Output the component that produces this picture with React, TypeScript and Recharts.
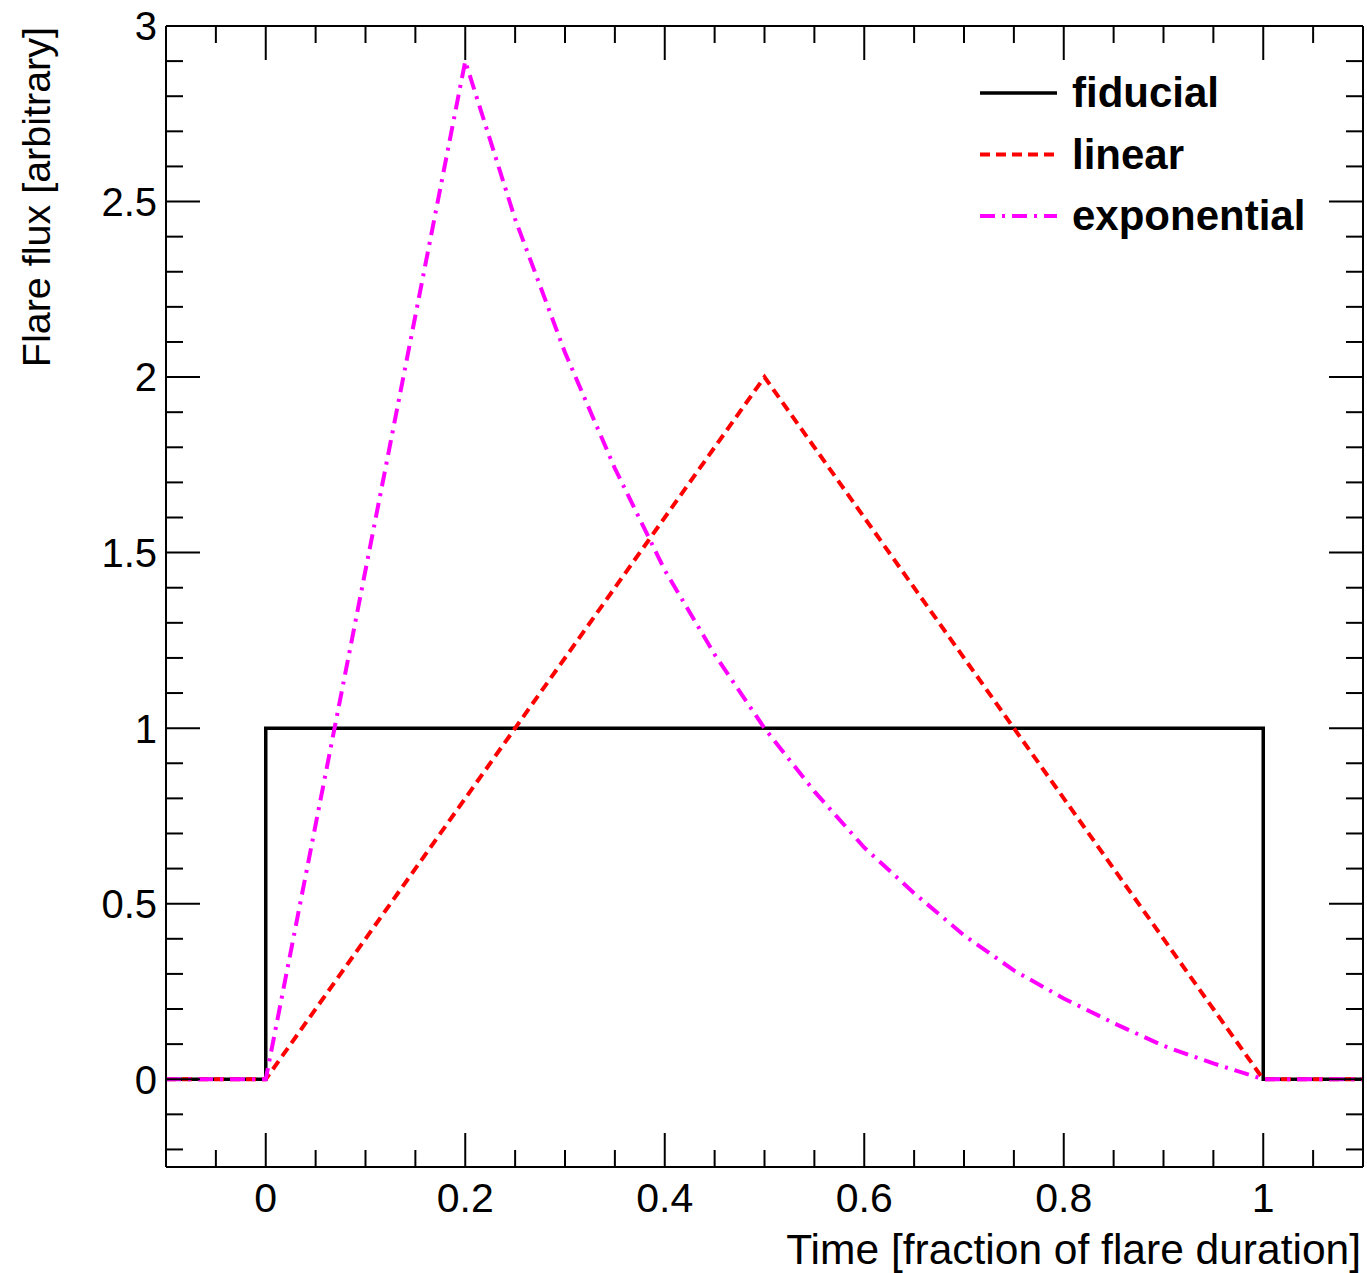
import { LineChart, Line, XAxis, YAxis } from "recharts";

// flare light-curve templates
const fiducialTime = [-0.1, 0, 0, 1, 1, 1.1];
const fiducialFlux = [0, 0, 1, 1, 0, 0];

const linearTime = [-0.1, 0, 0.5, 1, 1.1];
const linearFlux = [0, 0, 2, 0, 0];

const exponentialTime = [
  -0.1, 0, 0.2, 0.25, 0.3, 0.35, 0.4, 0.45, 0.5, 0.55, 0.6, 0.65, 0.7, 0.75, 0.8, 0.85, 0.9, 0.95, 1, 1.1,
];
const exponentialFlux = [
  0, 0, 2.9, 2.45, 2.07, 1.74, 1.45, 1.21, 1.0, 0.82, 0.66, 0.53, 0.41, 0.31, 0.23, 0.16, 0.095, 0.045, 0, 0,
];

const xMajorTicks = [0, 0.2, 0.4, 0.6, 0.8, 1];
const xTickLabels = ["0", "0.2", "0.4", "0.6", "0.8", "1"];
const xMinorTicks = [
  -0.05, 0.05, 0.1, 0.15, 0.25, 0.3, 0.35, 0.45, 0.5, 0.55, 0.65, 0.7, 0.75, 0.85, 0.9, 0.95, 1.05,
];

const yMajorTicks = [0, 0.5, 1, 1.5, 2, 2.5, 3];
const yTickLabels = ["0", "0.5", "1", "1.5", "2", "2.5", "3"];
const yMinorTicks = [
  -0.2, -0.1, 0.1, 0.2, 0.3, 0.4, 0.6, 0.7, 0.8, 0.9, 1.1, 1.2, 1.3, 1.4, 1.6, 1.7, 1.8, 1.9, 2.1, 2.2,
  2.3, 2.4, 2.6, 2.7, 2.8, 2.9,
];

const seriesNames = ["fiducial", "linear", "exponential"];
const xTitle = "Time [fraction of flare duration]";
const yTitle = "Flare flux [arbitrary]";

const zip = (t: number[], f: number[]) => t.map((time, i) => ({ time, flux: f[i] }));
const fiducialData = zip(fiducialTime, fiducialFlux);
const linearData = zip(linearTime, linearFlux);
const exponentialData = zip(exponentialTime, exponentialFlux);

const FONT = '"Liberation Sans", Arial, Helvetica, sans-serif';
const WIDTH = 1367;
const HEIGHT = 1273;
const MAJOR = 34;
const MINOR = 17;

const styles = {
  fiducial: { stroke: "#000000", strokeWidth: 3.5, dash: undefined as string | undefined },
  linear: { stroke: "#ff0000", strokeWidth: 4, dash: "10 6" },
  exponential: { stroke: "#ff00ff", strokeWidth: 4, dash: "15 7 3 7" },
};

const findMajor = (majors: number[], v: number) => majors.findIndex((m) => Math.abs(m - v) < 1e-6);

const makeTick =
  (side: "bottom" | "top" | "left" | "right", majors: number[], labels: string[] | null) =>
  (props: any) => {
    const { x, y, payload } = props;
    const idx = findMajor(majors, payload.value);
    const len = idx >= 0 ? MAJOR : MINOR;
    let line = { x1: x, y1: y, x2: x, y2: y };
    if (side === "bottom") line.y2 = y - len;
    if (side === "top") line.y2 = y + len;
    if (side === "left") line.x2 = x + len;
    if (side === "right") line.x2 = x - len;
    return (
      <g>
        <line {...line} stroke="#000" strokeWidth={2} />
        {labels && idx >= 0 && side === "bottom" && (
          <text x={x} y={y + 45} textAnchor="middle" fontSize={41} fontFamily={FONT} fill="#000">
            {labels[idx]}
          </text>
        )}
        {labels && idx >= 0 && side === "left" && (
          <text x={x - 9} y={y} dy="0.36em" textAnchor="end" fontSize={40} fontFamily={FONT} fill="#000">
            {labels[idx]}
          </text>
        )}
      </g>
    );
  };

const Legend = () => (
  <svg
    width={WIDTH}
    height={HEIGHT}
    style={{ position: "absolute", left: 0, top: 0, pointerEvents: "none" }}
  >
    {seriesNames.map((name, i) => {
      const s = styles[name as keyof typeof styles];
      const cy = 93 + i * 61.5;
      return (
        <g key={name}>
          <line
            x1={980}
            x2={1057}
            y1={cy}
            y2={cy}
            stroke={s.stroke}
            strokeWidth={s.strokeWidth}
            strokeDasharray={s.dash}
          />
          <text x={1072} y={cy + 14} fontSize={42} fontWeight="bold" fontFamily={FONT} fill="#000">
            {name}
          </text>
        </g>
      );
    })}
  </svg>
);

export default function App() {
  const allX = [...xMajorTicks, ...xMinorTicks].sort((a, b) => a - b);
  const allY = [...yMajorTicks, ...yMinorTicks].sort((a, b) => a - b);
  const axisLine = { stroke: "#000", strokeWidth: 2 };

  return (
    <div style={{ position: "absolute", left: 0, top: 0, width: WIDTH, height: HEIGHT, background: "#fff" }}>
      <LineChart width={WIDTH} height={HEIGHT} margin={{ top: 25, right: 3, bottom: 66, left: 106 }}>
        <XAxis
          xAxisId={0}
          dataKey="time"
          type="number"
          domain={[-0.1, 1.1]}
          allowDataOverflow
          ticks={allX}
          interval={0}
          height={40}
          tickSize={0}
          tickMargin={0}
          tickLine={false}
          axisLine={axisLine}
          tick={makeTick("bottom", xMajorTicks, xTickLabels)}
          label={(p: any) => {
            const vb = p.viewBox || { x: 166, y: 1167, width: 1197, height: 40 };
            return (
              <text
                x={vb.x + vb.width - 2}
                y={vb.y + 97}
                textAnchor="end"
                fontSize={42.5}
                fontFamily={FONT}
                fill="#000"
              >
                {xTitle}
              </text>
            );
          }}
        />
        <XAxis
          xAxisId="top"
          orientation="top"
          dataKey="time"
          type="number"
          domain={[-0.1, 1.1]}
          allowDataOverflow
          ticks={allX}
          interval={0}
          height={1}
          tickSize={0}
          tickMargin={0}
          tickLine={false}
          axisLine={axisLine}
          tick={makeTick("top", xMajorTicks, null)}
        />
        <YAxis
          yAxisId={0}
          type="number"
          domain={[-0.25, 3]}
          allowDataOverflow
          ticks={allY}
          interval={0}
          width={60}
          tickSize={0}
          tickMargin={0}
          tickLine={false}
          axisLine={axisLine}
          tick={makeTick("left", yMajorTicks, yTickLabels)}
          label={(p: any) => {
            const vb = p.viewBox || { x: 106, y: 26, width: 60, height: 1141 };
            const tx = vb.x - 56;
            const ty = vb.y + 1;
            return (
              <text
                x={tx}
                y={ty}
                transform={`rotate(-90, ${tx}, ${ty})`}
                textAnchor="end"
                fontSize={39.5}
                fontFamily={FONT}
                fill="#000"
              >
                {yTitle}
              </text>
            );
          }}
        />
        <YAxis
          yAxisId="right"
          orientation="right"
          type="number"
          domain={[-0.25, 3]}
          allowDataOverflow
          ticks={allY}
          interval={0}
          width={1}
          tickSize={0}
          tickMargin={0}
          tickLine={false}
          axisLine={axisLine}
          tick={makeTick("right", yMajorTicks, null)}
        />
        <Line
          data={fiducialData}
          dataKey="flux"
          type="linear"
          dot={false}
          stroke={styles.fiducial.stroke}
          strokeWidth={styles.fiducial.strokeWidth}
          isAnimationActive={false}
        />
        <Line
          data={linearData}
          dataKey="flux"
          type="linear"
          dot={false}
          stroke={styles.linear.stroke}
          strokeWidth={styles.linear.strokeWidth}
          strokeDasharray={styles.linear.dash}
          isAnimationActive={false}
        />
        <Line
          data={exponentialData}
          dataKey="flux"
          type="linear"
          dot={false}
          stroke={styles.exponential.stroke}
          strokeWidth={styles.exponential.strokeWidth}
          strokeDasharray={styles.exponential.dash}
          isAnimationActive={false}
        />
      </LineChart>
      <Legend />
    </div>
  );
}
